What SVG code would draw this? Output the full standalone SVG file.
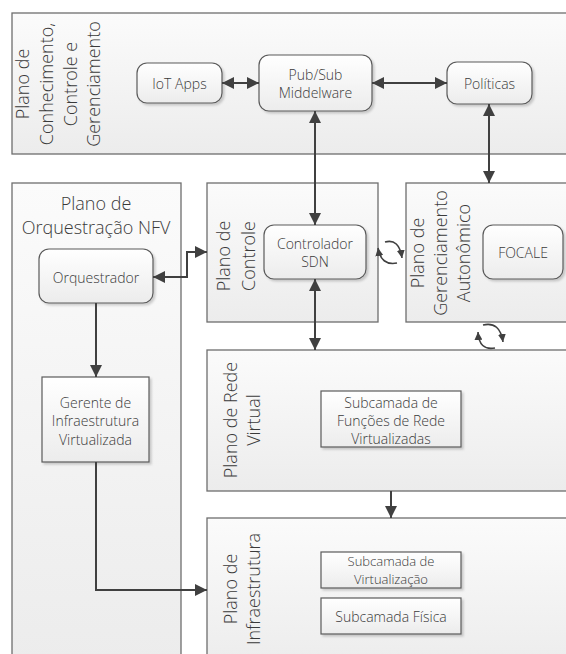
<svg xmlns="http://www.w3.org/2000/svg" width="566" height="654" viewBox="0 0 566 654">
<style>
text{font-family:"Open Sans","Liberation Sans",sans-serif;font-weight:300;fill:#3a3a3a}
.big{font-size:18px}
.sm{font-size:14px}
.plane{fill:url(#gPlane);stroke:#6e6e6e;stroke-width:1.3}
.box{fill:url(#gBox);stroke:#5a5a5a;stroke-width:1.2;filter:url(#sh)}
.c{fill:none;stroke:#404040;stroke-width:2}
.cy{fill:none;stroke:#404040;stroke-width:1.6}
</style>
<defs>
<linearGradient id="gPlane" x1="0" y1="0" x2="0" y2="1"><stop offset="0" stop-color="#fbfbfb"/><stop offset="1" stop-color="#ececec"/></linearGradient>
<linearGradient id="gBox" x1="0" y1="0" x2="0" y2="1"><stop offset="0" stop-color="#ffffff"/><stop offset="1" stop-color="#ececec"/></linearGradient>
<filter id="sh" x="-10%" y="-10%" width="130%" height="140%"><feDropShadow dx="2" dy="2" stdDeviation="1.2" flood-color="#000" flood-opacity="0.18"/></filter>
<marker id="ah" viewBox="0 0 10 10" refX="10" refY="5" markerUnits="userSpaceOnUse" markerWidth="12" markerHeight="12" orient="auto-start-reverse"><path d="M0,0 L10,5 L0,10 z" fill="#404040"/></marker>
<marker id="sa" viewBox="0 0 10 10" refX="10" refY="5" markerUnits="userSpaceOnUse" markerWidth="8" markerHeight="8" orient="auto"><path d="M0,0 L10,5 L0,10 z" fill="#404040"/></marker>
</defs>

<g id="plano-conhecimento">
<rect class="plane" x="12" y="13" width="560" height="141"/>
<text class="big" text-anchor="middle" dominant-baseline="central" transform="translate(22,84) rotate(-90)">Plano de</text>
<text class="big" text-anchor="middle" dominant-baseline="central" transform="translate(46,84) rotate(-90)">Conhecimento,</text>
<text class="big" text-anchor="middle" dominant-baseline="central" transform="translate(70,84) rotate(-90)">Controle e</text>
<text class="big" text-anchor="middle" dominant-baseline="central" transform="translate(93,84) rotate(-90)">Gerenciamento</text>
</g>

<g id="plano-orquestracao">
<rect class="plane" x="12" y="183" width="169" height="480"/>
<text class="big" x="96" y="203" text-anchor="middle" dominant-baseline="central">Plano de</text>
<text class="big" x="96" y="227" text-anchor="middle" dominant-baseline="central">Orquestração NFV</text>
</g>

<g id="plano-controle">
<rect class="plane" x="207" y="183" width="171" height="139"/>
<text class="big" text-anchor="middle" dominant-baseline="central" transform="translate(223,256) rotate(-90)">Plano de</text>
<text class="big" text-anchor="middle" dominant-baseline="central" transform="translate(248,256) rotate(-90)">Controle</text>
</g>

<g id="plano-gerenciamento">
<rect class="plane" x="406" y="183" width="170" height="139"/>
<text class="big" text-anchor="middle" dominant-baseline="central" transform="translate(417,253) rotate(-90)">Plano de</text>
<text class="big" text-anchor="middle" dominant-baseline="central" transform="translate(440,253) rotate(-90)">Gerenciamento</text>
<text class="big" text-anchor="middle" dominant-baseline="central" transform="translate(463,253) rotate(-90)">Autonômico</text>
</g>

<g id="plano-rede-virtual">
<rect class="plane" x="207" y="350" width="370" height="141"/>
<text class="big" text-anchor="middle" dominant-baseline="central" transform="translate(230,420) rotate(-90)">Plano de Rede</text>
<text class="big" text-anchor="middle" dominant-baseline="central" transform="translate(253,420) rotate(-90)">Virtual</text>
</g>

<g id="plano-infraestrutura">
<rect class="plane" x="207" y="518" width="370" height="150"/>
<text class="big" text-anchor="middle" dominant-baseline="central" transform="translate(230,589) rotate(-90)">Plano de</text>
<text class="big" text-anchor="middle" dominant-baseline="central" transform="translate(253,589) rotate(-90)">Infraestrutura</text>
</g>

<g id="iot-apps">
<rect class="box" x="137" y="63" width="85" height="40" rx="10"/>
<text class="sm" x="179.5" y="83" text-anchor="middle" dominant-baseline="central">IoT Apps</text>
</g>
<g id="pubsub">
<rect class="box" x="259" y="55" width="113" height="56" rx="10"/>
<text class="sm" x="315.5" y="74" text-anchor="middle" dominant-baseline="central">Pub/Sub</text>
<text class="sm" x="315.5" y="92" text-anchor="middle" dominant-baseline="central">Middelware</text>
</g>
<g id="politicas">
<rect class="box" x="447" y="62" width="85" height="42" rx="10"/>
<text class="sm" x="489.5" y="83" text-anchor="middle" dominant-baseline="central">Políticas</text>
</g>
<g id="orquestrador">
<rect class="box" x="39" y="249" width="114" height="54" rx="10"/>
<text class="sm" x="96" y="277" text-anchor="middle" dominant-baseline="central">Orquestrador</text>
</g>
<g id="controlador">
<rect class="box" x="264" y="225" width="102" height="54" rx="10"/>
<text class="sm" x="315" y="243" text-anchor="middle" dominant-baseline="central">Controlador</text>
<text class="sm" x="315" y="261" text-anchor="middle" dominant-baseline="central">SDN</text>
</g>
<g id="focale">
<rect class="box" x="483" y="225" width="80" height="54" rx="10"/>
<text class="sm" x="523" y="252" text-anchor="middle" dominant-baseline="central">FOCALE</text>
</g>
<g id="gerente">
<rect class="box" x="42" y="377" width="107" height="85"/>
<text class="sm" x="95.5" y="402" text-anchor="middle" dominant-baseline="central">Gerente de</text>
<text class="sm" x="95.5" y="420" text-anchor="middle" dominant-baseline="central">Infraestrutura</text>
<text class="sm" x="95.5" y="439" text-anchor="middle" dominant-baseline="central">Virtualizada</text>
</g>
<g id="subcamada-funcoes">
<rect class="box" x="321" y="391" width="140" height="56"/>
<text class="sm" x="391" y="402" text-anchor="middle" dominant-baseline="central">Subcamada de</text>
<text class="sm" x="391" y="420" text-anchor="middle" dominant-baseline="central">Funções de Rede</text>
<text class="sm" x="391" y="438" text-anchor="middle" dominant-baseline="central">Virtualizadas</text>
</g>
<g id="subcamada-virtualizacao">
<rect class="box" x="321" y="552" width="140" height="36"/>
<text class="sm" x="391" y="561" text-anchor="middle" dominant-baseline="central" style="font-size:13px">Subcamada de</text>
<text class="sm" x="391" y="579" text-anchor="middle" dominant-baseline="central" style="font-size:13px">Virtualização</text>
</g>
<g id="subcamada-fisica">
<rect class="box" x="321" y="598" width="140" height="36"/>
<text class="sm" x="391" y="616" text-anchor="middle" dominant-baseline="central">Subcamada Física</text>
</g>

<g id="connectors">
<path class="c" d="M222,83 L259,83" marker-start="url(#ah)" marker-end="url(#ah)"/>
<path class="c" d="M372,83 L447,83" marker-start="url(#ah)" marker-end="url(#ah)"/>
<path class="c" d="M315,111 L315,225" marker-start="url(#ah)" marker-end="url(#ah)"/>
<path class="c" d="M489,104 L489,183" marker-start="url(#ah)" marker-end="url(#ah)"/>
<path class="c" d="M315,279 L315,350" marker-start="url(#ah)" marker-end="url(#ah)"/>
<path class="c" d="M153,277 L187,277 L187,252 L207,252" marker-start="url(#ah)" marker-end="url(#ah)"/>
<path class="c" d="M96,303 L96,377" marker-end="url(#ah)"/>
<path class="c" d="M96,462 L96,590 L207,590" marker-end="url(#ah)"/>
<path class="c" d="M391,491 L391,518" marker-end="url(#ah)"/>
<path class="cy" d="M385,242 Q399,238 402,258" marker-end="url(#sa)"/>
<path class="cy" d="M397,263 Q381,266 378,248" marker-end="url(#sa)"/>
<path class="cy" d="M483,325 Q500,321 503,342" marker-end="url(#sa)"/>
<path class="cy" d="M495,348 Q479,351 478,332" marker-end="url(#sa)"/>
</g>
</svg>
